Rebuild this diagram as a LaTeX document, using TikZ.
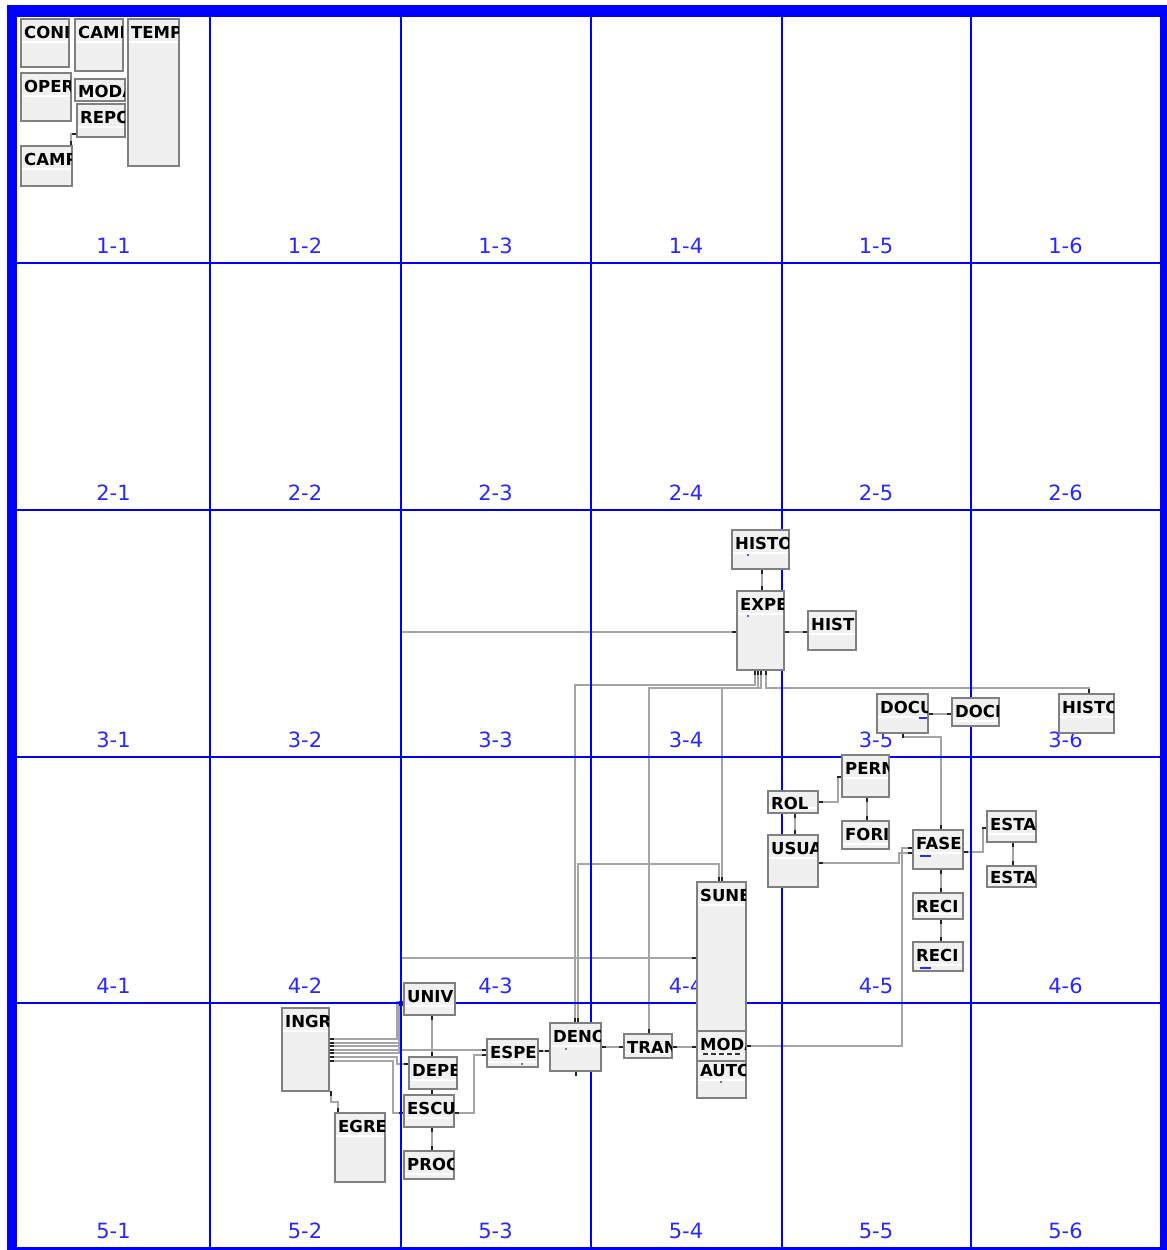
\documentclass[tikz,border=0pt]{standalone}
\usepackage{fontspec}
\setmainfont{DejaVu Sans}
\usetikzlibrary{arrows.meta}
\definecolor{gridblue}{RGB}{0,0,255}
\definecolor{labblue}{RGB}{40,40,255}
\definecolor{boxfill}{RGB}{240,240,240}
\definecolor{boxline}{RGB}{128,128,128}
\definecolor{connline}{RGB}{165,165,165}
\definecolor{tickc}{RGB}{35,35,35}
\pgfdeclarelayer{connlayer}
\pgfdeclarelayer{gridlayer}
\pgfsetlayers{connlayer,gridlayer,main}
\tikzset{
 tbl/.style={draw=boxline, fill=boxfill, line width=1.6pt, inner sep=0pt, outer sep=0pt},
 txt/.style={font=\bfseries\fontsize{16.5}{16.5}\selectfont, inner sep=0pt, text=black},
 lab/.style={font=\fontsize{21}{21}\selectfont, text=labblue, inner sep=0pt, anchor=base},
 conn/.style={draw=connline, line width=1.5pt, arrows={Rectangle[length=5pt,width=2pt,color=tickc]-Rectangle[length=5pt,width=2pt,color=tickc]}},
 gridl/.style={draw=gridblue, line width=2pt},
 tickl/.style={draw=tickc, line width=2pt},
}
\newcommand\dbbox[6]{%
  \node[tbl, minimum width={#4-#2}, minimum height={#5-#3}, anchor=north west] (#1) at (#2,#3) {};
  \pgfmathsetmacro\dbhh{#5-#3}%
  \pgfmathsetmacro\dbbl{min(19.5,\dbhh-4)}%
  \pgfmathsetmacro\dbst{min(22,\dbhh-6)}%
  \fill[white] (#2+1,#3+\dbst) rectangle (#4-1,#3+\dbst+1.6);
  \begin{scope}
    \clip (#2+0.8,#3+0.8) rectangle (#4-0.8,#5-0.8);
    \node[txt, anchor=base west] at (#2+3,#3+\dbbl) {#6};
  \end{scope}}
\begin{document}
\begin{tikzpicture}[x=1pt,y=-1pt]
\useasboundingbox (0,0) rectangle (1167,1250);

% ---------------- boxes ----------------
\dbbox{CONI}{21}{19}{69}{67}{CONI}
\dbbox{CAMI}{75}{19}{123}{71}{CAMI}
\dbbox{TEMP}{128}{19}{179}{166}{TEMP}
\dbbox{OPER}{21}{73}{71}{121}{OPER}
\dbbox{MODAt}{75}{79}{125}{101}{MODA}
\dbbox{REPO}{77}{104}{125}{137}{REPO}
\dbbox{CAMP}{21}{146}{72}{186}{CAMP}
\dbbox{HISTOt}{732}{530}{789}{569}{HISTO}
\dbbox{EXPE}{737}{591}{784}{670}{EXPE}
\dbbox{HISTr}{808}{611}{856}{650}{HIST}
\dbbox{DOCU}{877}{694}{928}{733}{DOCU}
\dbbox{DOCI}{952}{698}{999}{726}{DOCI}
\dbbox{HISTOr}{1059}{694}{1114}{733}{HISTO}
\dbbox{PERM}{842}{755}{889}{797}{PERM}
\dbbox{ROL}{768}{791}{818}{813}{ROL}
\dbbox{FORI}{842}{821}{889}{849}{FORI}
\dbbox{USUA}{768}{835}{818}{887}{USUA}
\dbbox{FASE}{913}{830}{963}{869}{FASE}
\dbbox{ESTAt}{987}{811}{1036}{842}{ESTA}
\dbbox{ESTAb}{987}{866}{1036}{887}{ESTA}
\dbbox{RECIa}{913}{893}{963}{919}{RECI}
\dbbox{RECIb}{913}{942}{963}{971}{RECI}
\dbbox{SUNE}{697}{882}{746}{1040}{SUNE}
\dbbox{AUTO}{697}{1057}{746}{1098}{AUTO}
\dbbox{MODAs}{697}{1031}{746}{1061}{MODA}
\dbbox{TRAN}{624}{1034}{672}{1058}{TRAN}
\dbbox{DENO}{550}{1023}{601}{1071}{DENO}
\dbbox{ESPE}{487}{1039}{538}{1067}{ESPE}
\dbbox{UNIV}{404}{983}{455}{1015}{UNIV}
\dbbox{DEPE}{409}{1057}{457}{1089}{DEPE}
\dbbox{ESCU}{404}{1095}{454}{1127}{ESCU}
\dbbox{PROC}{404}{1151}{454}{1179}{PROC}
\dbbox{INGR}{282}{1008}{329}{1091}{INGR}
\dbbox{EGRE}{335}{1113}{385}{1182}{EGRE}

% small marks inside boxes
\fill[labblue] (748,555) circle (1.1);
\fill[labblue] (748,616) circle (1.1);
\fill[labblue] (919,717) rectangle (927,719);
\fill[labblue] (920,855) rectangle (931,857);
\fill[labblue] (920,967) rectangle (931,969);
\fill[black] (566,1049) circle (0.9);
\fill[black] (522,1064) circle (0.9);
\fill[black] (721,1082) circle (0.9);
\draw[black!80, line width=1.3pt, dash pattern=on 5pt off 3pt] (703,1054) -- (743,1054);

% ---------------- grid ----------------
\begin{pgfonlayer}{gridlayer}
\fill[gridblue] (7,5) rectangle (17,1250);
\fill[gridblue] (7,5) rectangle (1167,17);
\fill[gridblue] (1160,5) rectangle (1167,1250);
\fill[gridblue] (7,1247) rectangle (1167,1250);
\foreach \gx in {209.5,400.5,591,781.5,970.5} \draw[gridl] (\gx,17) -- (\gx,1247);
\foreach \gy in {263.3,510.3,757.3,1003.3} \draw[gridl] (17,\gy) -- (1160,\gy);
\foreach \r/\by in {1/253,2/500,3/747,4/993,5/1238}
  \foreach \c/\cx in {1/113.5,2/305,3/495.5,4/686,5/876,6/1065.5}
    \node[lab] at (\cx,\by) {\r-\c};
\end{pgfonlayer}

% ---------------- connectors ----------------
\begin{pgfonlayer}{connlayer}
\draw[conn] (REPO.west |- 0,134) -- (71,134) -- (71,0 |- CAMP.north);
\draw[conn] (762,0 |- HISTOt.south) -- (762,0 |- EXPE.north);
\draw[conn] (EXPE.east |- 0,632) -- (HISTr.west |- 0,632);
\draw[conn] (INGR.east |- 0,1046) -- (401,1046) -- (401,632) -- (EXPE.west |- 0,632);
\draw[conn] (INGR.east |- 0,1043) -- (401,1043) -- (401,958) -- (SUNE.west |- 0,958);
\draw[conn] (INGR.east |- 0,1039) -- (397,1039) -- (397,1002) -- (UNIV.west |- 0,1002);
\draw[conn] (INGR.east |- 0,1053) -- (399,1053) -- (399,1005) -- (UNIV.west |- 0,1005);
\draw[conn] (INGR.east |- 0,1050) -- (ESPE.west |- 0,1050);
\draw[conn] (INGR.east |- 0,1057) -- (397,1057) -- (397,1064) -- (DEPE.west |- 0,1064);
\draw[conn] (INGR.east |- 0,1061) -- (393,1061) -- (393,1113) -- (ESCU.west |- 0,1113);
\draw[conn] (331,0 |- INGR.south) -- (331,1102) -- (338,1102) -- (338,0 |- EGRE.north);
\draw[conn] (432,0 |- UNIV.south) -- (432,0 |- DEPE.north);
\draw[tickl] (432,0 |- DEPE.south) -- (432,0 |- ESCU.north);
\draw[conn] (432,0 |- ESCU.south) -- (432,0 |- PROC.north);
\draw[conn] (ESCU.east |- 0,1113) -- (474,1113) -- (474,1055) -- (ESPE.west |- 0,1055);
\draw[conn] (ESPE.east |- 0,1051) -- (DENO.west |- 0,1051);
\draw[conn] (DENO.east |- 0,1047) -- (TRAN.west |- 0,1047);
\draw[conn] (TRAN.east |- 0,1047) -- (MODAs.west |- 0,1047);
\draw[conn] (MODAs.east |- 0,1046) -- (902,1046) -- (902,848) -- (FASE.west |- 0,848);
\draw[conn] (USUA.east |- 0,863) -- (899,863) -- (899,853) -- (FASE.west |- 0,853);
\draw[conn] (755,0 |- EXPE.south) -- (755,685) -- (575,685) -- (575,0 |- DENO.north);
\draw[conn] (758,0 |- EXPE.south) -- (758,688) -- (649,688) -- (649,0 |- TRAN.north);
\draw[conn] (761,0 |- EXPE.south) -- (761,688) -- (722,688) -- (722,0 |- SUNE.north);
\draw[conn] (766,0 |- EXPE.south) -- (766,688) -- (1089,688) -- (1089,0 |- HISTOr.north);
\draw[conn] (578,0 |- DENO.north) -- (578,864) -- (719,864) -- (719,0 |- SUNE.north);
\draw[tickl] (576,0 |- DENO.south) -- (576,1076);
\draw[conn] (DOCU.east |- 0,714) -- (DOCI.west |- 0,714);
\draw[conn] (903,0 |- DOCU.south) -- (903,737) -- (941,737) -- (941,0 |- FASE.north);
\draw[conn] (ROL.east |- 0,802) -- (838,802) -- (838,777) -- (PERM.west |- 0,777);
\draw[conn] (867,0 |- PERM.south) -- (867,0 |- FORI.north);
\draw[conn] (795,0 |- ROL.south) -- (795,0 |- USUA.north);
\draw[conn] (FASE.east |- 0,852) -- (983,852) -- (983,828) -- (ESTAt.west |- 0,828);
\draw[conn] (1013,0 |- ESTAt.south) -- (1013,0 |- ESTAb.north);
\draw[conn] (941,0 |- FASE.south) -- (941,0 |- RECIa.north);
\draw[conn] (941,0 |- RECIa.south) -- (941,0 |- RECIb.north);
\end{pgfonlayer}
\end{tikzpicture}
\end{document}
